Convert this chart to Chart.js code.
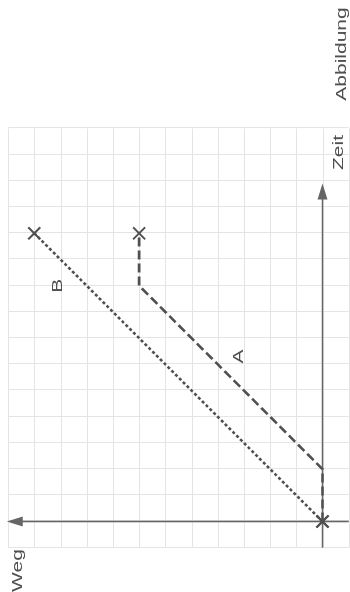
<!DOCTYPE html>
<html>
<head>
<meta charset="utf-8">
<script src="https://cdn.jsdelivr.net/npm/chart.js@4.4.1/dist/chart.umd.min.js"></script>
<style>
  html, body { margin: 0; padding: 0; background: #fff; overflow: hidden; }
  body { width: 350px; height: 592px; position: relative; }
  /* the diagram is drawn upright and then turned a quarter turn */
  #wrap {
    position: absolute; left: 0; top: 0;
    width: 592px; height: 350px;
    transform-origin: 0 0;
    transform: translate(0, 592px) rotate(-90deg);
  }
</style>
</head>
<body>
<div id="wrap"><canvas id="chart" width="592" height="350"></canvas></div>
<script>
// Fahrt A: wartet zuerst, fährt dann und bleibt zuletzt stehen
const zeitA = [0, 2, 9, 11];
const wegA  = [0, 0, 7, 7];
// Fahrt B: fährt gleichmäßig vom Start weg
const zeitB = [0, 11];
const wegB  = [0, 11];

const lineLabels = ['A', 'B'];
const labelZeit = [6.3, 9.0];
const labelWeg  = [3.2, 10.1];

const gridZeit = [-1, 15];
const gridWeg  = [-1, 12];
const axisEndZeit = 12.9;
const axisEndWeg  = 12.05;

const UNIT = 26.2;
const ORIGIN_X = 70.5;   // canvas px of Zeit = 0
const ORIGIN_Y = 322.5;  // canvas px of Weg = 0

const ink = '#505050';
const axisColor = '#666';
const gridColor = '#e4e4e4';

function endMarks(n) {
  return {
    style: Array.from({ length: n }, (_, i) => (i === 0 || i === n - 1) ? 'crossRot' : 'circle'),
    radius: Array.from({ length: n }, (_, i) => (i === 0 || i === n - 1) ? 8.5 : 0)
  };
}

function arrowHead(ctx, x, y, dx, dy, len, half) {
  ctx.beginPath();
  ctx.moveTo(x, y);
  ctx.lineTo(x - dx * len - dy * half, y - dy * len + dx * half);
  ctx.lineTo(x - dx * len + dy * half, y - dy * len - dx * half);
  ctx.closePath();
  ctx.fill();
}

function stretchedText(ctx, text, x, y) {
  ctx.save();
  ctx.translate(x, y);
  ctx.scale(1.4, 1);
  ctx.fillText(text, 0, 0);
  ctx.restore();
}

const paperPlugin = {
  id: 'paper',
  beforeDatasetsDraw(chart) {
    const { ctx, scales: { x, y } } = chart;
    ctx.save();
    // Kästchenpapier
    ctx.strokeStyle = gridColor;
    ctx.lineWidth = 1;
    for (let t = gridZeit[0]; t <= gridZeit[1]; t++) {
      const px = Math.round(x.getPixelForValue(t)) + 0.5;
      ctx.beginPath();
      ctx.moveTo(px, y.getPixelForValue(gridWeg[0]));
      ctx.lineTo(px, y.getPixelForValue(gridWeg[1]));
      ctx.stroke();
    }
    for (let w = gridWeg[0]; w <= gridWeg[1]; w++) {
      const py = Math.round(y.getPixelForValue(w)) + 0.5;
      ctx.beginPath();
      ctx.moveTo(x.getPixelForValue(gridZeit[0]), py);
      ctx.lineTo(x.getPixelForValue(gridZeit[1]), py);
      ctx.stroke();
    }
    // Achsen mit Pfeilspitzen
    const x0 = x.getPixelForValue(0), y0 = y.getPixelForValue(0);
    const xEnd = x.getPixelForValue(axisEndZeit), yEnd = y.getPixelForValue(axisEndWeg);
    ctx.strokeStyle = axisColor;
    ctx.fillStyle = axisColor;
    ctx.lineWidth = 1.6;
    ctx.beginPath();
    ctx.moveTo(x.getPixelForValue(-1), y0);
    ctx.lineTo(xEnd - 8, y0);
    ctx.moveTo(x0, y.getPixelForValue(-1));
    ctx.lineTo(x0, yEnd + 8);
    ctx.stroke();
    arrowHead(ctx, xEnd, y0, 1, 0, 16, 5);
    arrowHead(ctx, x0, yEnd, 0, -1, 16, 5);
    ctx.restore();
  },
  afterDraw(chart) {
    const { ctx, scales: { x, y } } = chart;
    const x0 = x.getPixelForValue(0), y0 = y.getPixelForValue(0);
    ctx.save();
    ctx.fillStyle = ink;
    ctx.textAlign = 'center';
    ctx.textBaseline = 'middle';
    ctx.font = '15px "Liberation Sans", Arial, sans-serif';
    lineLabels.forEach((lbl, i) => {
      stretchedText(ctx, lbl, x.getPixelForValue(labelZeit[i]), y.getPixelForValue(labelWeg[i]));
    });
    stretchedText(ctx, 'Zeit', x.getPixelForValue(axisEndZeit) + 31, y0 + 16);
    stretchedText(ctx, 'Weg', x0 - 49, y.getPixelForValue(axisEndWeg) + 11);
    stretchedText(ctx, 'Abbildung', chart.width - 54, y0 + 19);
    ctx.restore();
  }
};

const marksA = endMarks(zeitA.length);
const marksB = endMarks(zeitB.length);
const canvasW = 592, canvasH = 350;

new Chart(document.getElementById('chart'), {
  type: 'scatter',
  data: {
    datasets: [
      {
        label: 'A',
        data: zeitA.map((t, i) => ({ x: t, y: wegA[i] })),
        showLine: true,
        borderColor: ink,
        borderWidth: 2.6,
        borderDash: [9, 4],
        pointStyle: marksA.style,
        pointRadius: marksA.radius,
        pointBorderColor: ink,
        pointBorderWidth: 2,
        pointBackgroundColor: ink
      },
      {
        label: 'B',
        data: zeitB.map((t, i) => ({ x: t, y: wegB[i] })),
        showLine: true,
        borderColor: ink,
        borderWidth: 2.6,
        borderDash: [3, 2.4],
        pointStyle: marksB.style,
        pointRadius: marksB.radius,
        pointBorderColor: ink,
        pointBorderWidth: 2,
        pointBackgroundColor: ink
      }
    ]
  },
  options: {
    responsive: false,
    animation: false,
    layout: { padding: 0, autoPadding: false },
    plugins: { legend: { display: false }, tooltip: { enabled: false } },
    scales: {
      x: { type: 'linear', display: false, min: -ORIGIN_X / UNIT, max: (canvasW - ORIGIN_X) / UNIT },
      y: { type: 'linear', display: false, min: -(canvasH - ORIGIN_Y) / UNIT, max: ORIGIN_Y / UNIT }
    }
  },
  plugins: [paperPlugin]
});
</script>
</body>
</html>
